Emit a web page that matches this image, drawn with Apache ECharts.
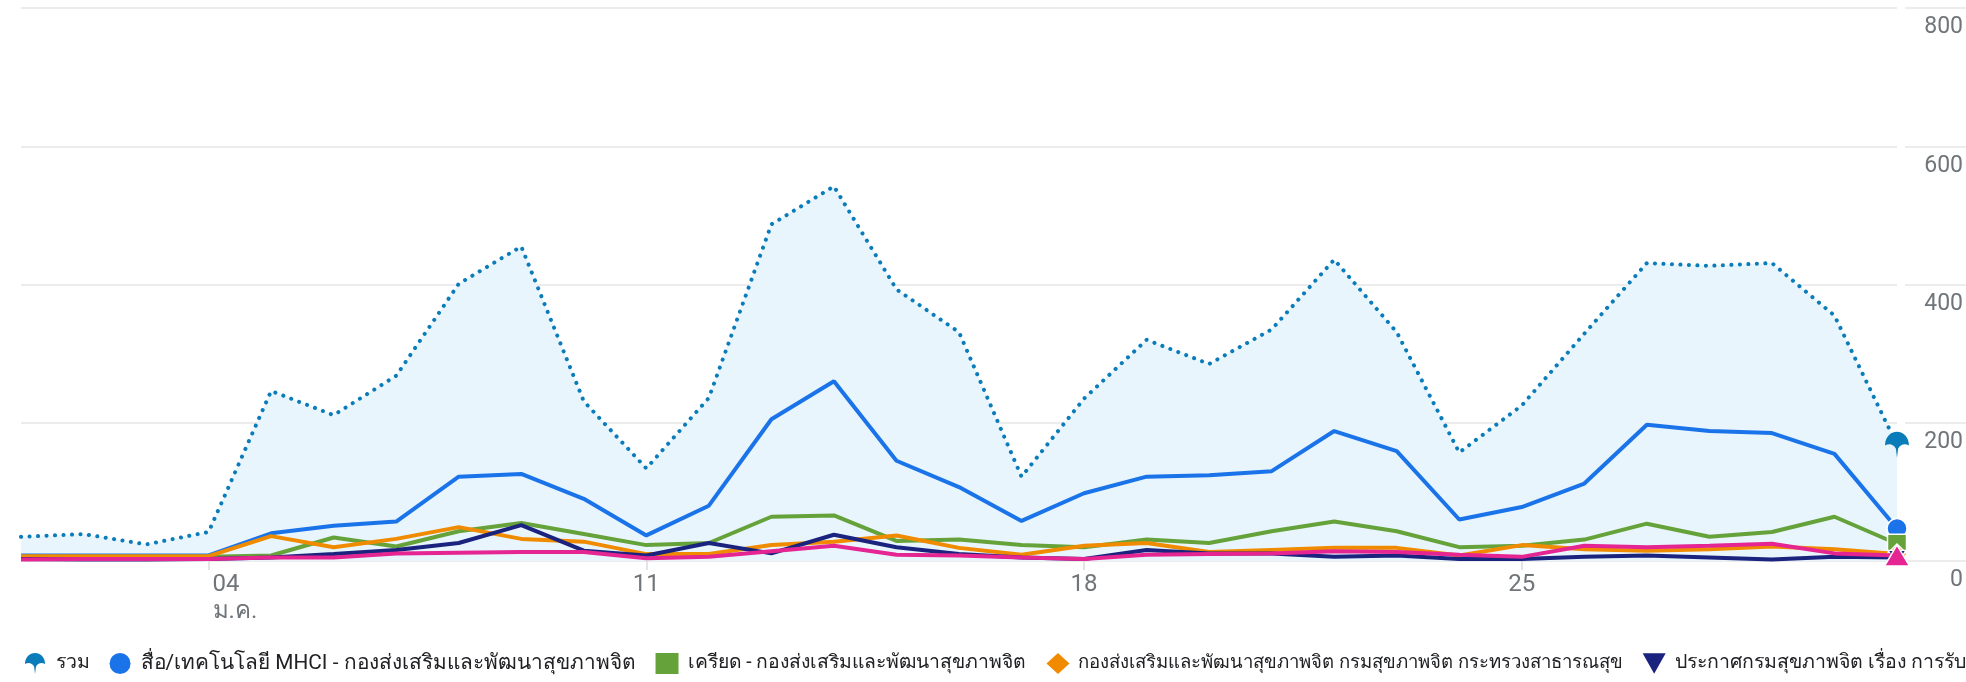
<!DOCTYPE html>
<html><head><meta charset="utf-8">
<script src="https://cdn.jsdelivr.net/npm/echarts@6/dist/echarts.min.js"></script>
<style>html,body{margin:0;padding:0;background:#fff}#c{width:1966px;height:682px}</style>
</head><body><div id="c"></div>
<script>
const days = ['01','02','03','04','05','06','07','08','09','10','11','12','13','14','15','16','17','18','19','20','21','22','23','24','25','26','27','28','29','30','31'];
const tickDays = ['04','11','18','25'];
const monthLabel = 'ม.ค.';
const yTicks = [0, 200, 400, 600, 800];

const seriesNames = [
  'รวม',
  'สื่อ/เทคโนโลยี MHCI - กองส่งเสริมและพัฒนาสุขภาพจิต',
  'เครียด - กองส่งเสริมและพัฒนาสุขภาพจิต',
  'กองส่งเสริมและพัฒนาสุขภาพจิต กรมสุขภาพจิต กระทรวงสาธารณสุข',
  'ประกาศกรมสุขภาพจิต เรื่อง การรับสมัครบุคคล',
  'กรมสุขภาพจิต'
];
const total  = [35, 39, 24, 42, 246, 211, 268, 401, 455, 231, 134, 236, 487, 542, 393, 331, 122, 235, 320, 285, 335, 436, 331, 157, 225, 329, 431, 427, 431, 355, 168];
const mhci   = [8, 8, 8, 8, 40, 51, 57, 122, 126, 90, 37, 80, 205, 260, 145, 107, 58, 98, 122, 124, 130, 188, 159, 60, 78, 112, 197, 188, 185, 155, 47];
const stress = [6, 6, 6, 6, 8, 34, 21, 43, 55, 39, 23, 26, 64, 66, 29, 31, 23, 20, 31, 26, 43, 57, 43, 20, 22, 31, 54, 35, 42, 64, 25];
const office = [7, 7, 7, 7, 36, 20, 32, 49, 32, 28, 10, 10, 23, 28, 37, 19, 9, 22, 26, 13, 16, 19, 19, 8, 23, 17, 15, 17, 21, 17, 10];
const notice = [3, 2, 2, 3, 5, 10, 16, 26, 52, 15, 8, 26, 11, 38, 20, 10, 5, 3, 16, 11, 11, 6, 8, 3, 3, 6, 8, 5, 2, 6, 5];
const dmh    = [2, 3, 3, 3, 5, 5, 11, 12, 13, 13, 4, 6, 14, 22, 9, 8, 5, 3, 9, 10, 11, 14, 13, 9, 6, 22, 20, 22, 25, 11, 8];

const colors = ['#0b7cba', '#1a73e8', '#66a23a', '#f08b00', '#1a237e', '#e52592'];
const totalIcon = 'path://M0,12 C0,5 5,0 11,0 C17,0 22,5 22,12 C18,10 14,11 12,15 L11,23 L10,15 C8,11 4,10 0,12 Z';
const invTri = 'path://M0,0 L10,0 L5,9 Z';
const icons = [totalIcon, 'circle', 'rect', 'diamond', invTri, 'triangle'];
const legendFontSizes = [19.5, 20.8, 19.35, 18.55, 19.5, 19.5];
const lastSym = [
  {symbol: totalIcon, symbolSize: [25, 26]},
  {symbol: 'circle', symbolSize: 20},
  {symbol: 'rect', symbolSize: 19},
  {symbol: 'diamond', symbolSize: 20},
  {symbol: invTri, symbolSize: [18, 16]},
  {symbol: 'triangle', symbolSize: [25, 21]}
];

function withLast(arr, k) {
  return arr.map((v, i) => i === arr.length - 1 ? Object.assign({value: v}, lastSym[k]) : v);
}

const FONT = 'Roboto, "Noto Sans", sans-serif';
const allData = [total, mhci, stress, office, notice, dmh];

const series = allData.map((arr, k) => {
  const s = {
    name: seriesNames[k], type: 'line', xAxisIndex: 0, yAxisIndex: 0,
    data: withLast(arr, k), symbol: 'none', showAllSymbol: true, symbolKeepAspect: true,
    itemStyle: {color: colors[k], borderColor: '#fff', borderWidth: 1.5},
    lineStyle: {color: colors[k], width: 4},
    emphasis: {disabled: true}, animation: false, z: 2 + k
  };
  if (k === 0) {
    s.lineStyle = {color: colors[0], width: 4, type: [0.1, 8.4], cap: 'round'};
    s.areaStyle = {color: '#e8f5fd', opacity: 1};
    s.itemStyle = {color: colors[0], borderWidth: 0};
  }
  return s;
});

const legendRich = {};
legendFontSizes.forEach((fs, k) => { legendRich['s' + k] = {fontSize: fs, color: '#202124', fontFamily: FONT}; });

const chart = echarts.init(document.getElementById('c'));
chart.setOption({
  animation: false,
  textStyle: {fontFamily: FONT},
  grid: [
    {left: 21, right: 69, top: 8, bottom: 121},
    {left: 1905, right: 0, top: 8, bottom: 121}
  ],
  xAxis: [
    {
      type: 'category', gridIndex: 0, data: days, boundaryGap: false,
      axisLine: {show: false},
      axisTick: {show: true, interval: (i, v) => tickDays.includes(v), length: 9, lineStyle: {color: '#dadce0', width: 1.5}},
      axisLabel: {
        interval: (i, v) => tickDays.includes(v),
        margin: 10, color: '#70757a', fontSize: 24, fontFamily: FONT, lineHeight: 27,
        formatter: (v) => v === tickDays[0] ? '{f|' + v + '}\n{f|' + monthLabel + '}' : v,
        rich: {f: {width: 40, align: 'left', padding: [0, 0, 0, 48], fontSize: 24, lineHeight: 27, color: '#70757a', fontFamily: FONT}}
      },
      splitLine: {show: false}
    },
    {type: 'category', gridIndex: 1, data: ['a'], show: false}
  ],
  yAxis: [
    {
      type: 'value', gridIndex: 0, min: yTicks[0], max: yTicks[yTicks.length - 1], interval: 200,
      axisLabel: {show: false}, axisLine: {show: false}, axisTick: {show: false},
      splitLine: {show: true, lineStyle: {color: '#e6e6e6', width: 1.5}}
    },
    {
      type: 'value', gridIndex: 1, position: 'right', min: yTicks[0], max: yTicks[yTicks.length - 1], interval: 200,
      axisLine: {show: false}, axisTick: {show: false},
      axisLabel: {inside: true, margin: 3, color: '#70757a', fontSize: 23, fontFamily: FONT, verticalAlign: 'top', padding: [8, 0, 0, 0]},
      splitLine: {show: true, lineStyle: {color: '#e6e6e6', width: 1.5}}
    }
  ],
  legend: {
    left: 20, top: 648, width: 6000, itemGap: 20, itemWidth: 23, itemHeight: 21,
    selectedMode: false,
    formatter: (name) => '{s' + seriesNames.indexOf(name) + '|' + name + '}',
    textStyle: {fontSize: 19.5, color: '#202124', fontFamily: FONT, padding: [0, 0, 0, 4], rich: legendRich},
    data: seriesNames.map((n, k) => ({name: n, icon: icons[k], itemStyle: {color: colors[k], borderWidth: 0}}))
  },
  series: series
});
</script></body></html>
